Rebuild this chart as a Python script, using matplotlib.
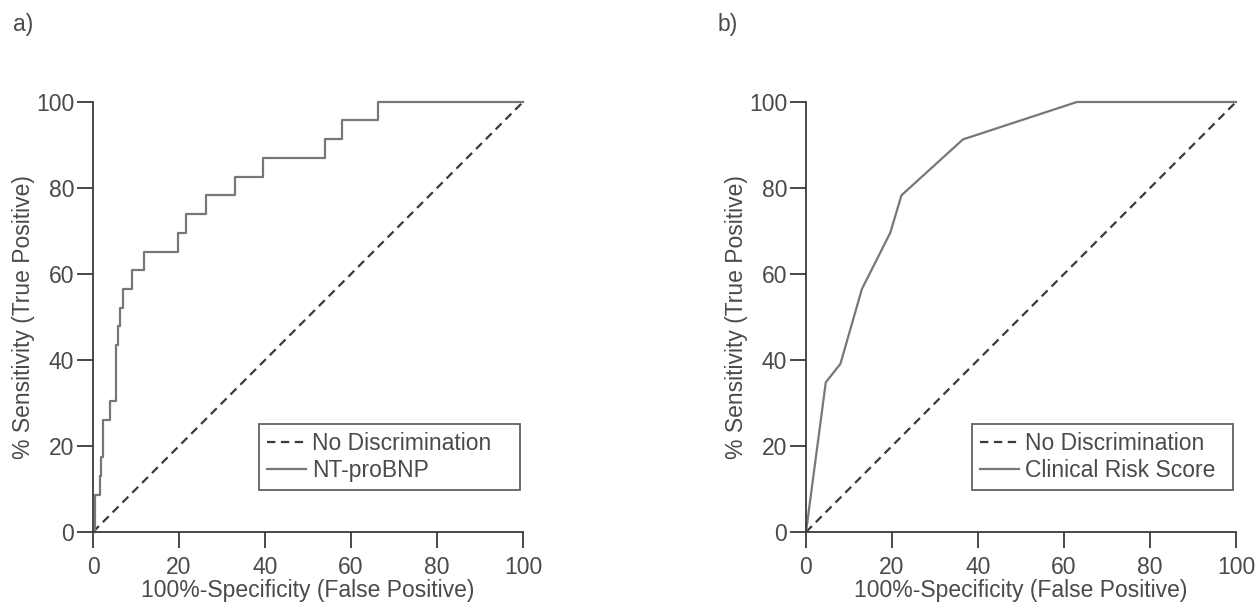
import numpy as np
import matplotlib
matplotlib.use('Agg')
import matplotlib.pyplot as plt

plt.rcParams['font.family'] = ['Liberation Sans', 'DejaVu Sans']
plt.rcParams['lines.scale_dashes'] = False

# a) NT-proBNP ROC (step curve, jump points: at fpr the sensitivity rises to tpr)
fpr_a = [0.0, 0.4, 1.6, 1.8, 2.3, 4.0, 5.3, 5.8, 6.2, 7.0, 9.0, 11.9, 19.8,
         21.6, 26.3, 33.0, 39.5, 54.0, 58.0, 66.3, 100.0]
tpr_a = [0.0, 8.7, 13.0, 17.4, 26.1, 30.4, 43.5, 47.8, 52.2, 56.5, 60.9, 65.2,
         69.6, 73.9, 78.3, 82.6, 87.0, 91.3, 95.7, 100.0, 100.0]

# b) Clinical risk score ROC
fpr_b = [0.0, 4.6, 8.0, 13.0, 19.6, 22.2, 36.5, 63.0, 100.0]
tpr_b = [0.0, 34.8, 39.1, 56.5, 69.6, 78.3, 91.3, 100.0, 100.0]

# reference line
diag = [0, 100]

ticks = [0, 20, 40, 60, 80, 100]
TXT = '#4a4a4a'
AX = '#3a3a3a'
CURVE = '#777777'
FS = 16.5

fig = plt.figure(figsize=(12.59, 6.06), dpi=100)
W, H = 1259, 606


def panel(left_px, xs, ys, label, step, tag, tag_x):
    ax = fig.add_axes([left_px / W, (H - 532) / H, 430 / W, 430 / H])
    ax.plot(diag, diag, color=AX, lw=1.6, dashes=(6, 4), clip_on=False,
            label='No Discrimination')
    ax.plot(xs, ys, color=CURVE, lw=1.6, clip_on=False, label=label,
            drawstyle='steps-post' if step else 'default')
    ax.set_xlim(0, 100)
    ax.set_ylim(0, 100)
    for s in ['top', 'right']:
        ax.spines[s].set_visible(False)
    for s in ['left', 'bottom']:
        ax.spines[s].set_color(AX)
        ax.spines[s].set_linewidth(1.3)
    ax.set_xticks(ticks)
    ax.set_yticks(ticks)
    ax.tick_params(length=11.5, width=1.3, color=AX, labelcolor=TXT,
                   labelsize=FS)
    ax.tick_params(axis='x', pad=6)
    ax.tick_params(axis='y', pad=2)
    ax.set_xlabel('100%-Specificity (False Positive)', fontsize=FS, color=TXT,
                  labelpad=0)
    ax.set_ylabel('% Sensitivity (True Positive)', fontsize=FS, color=TXT,
                  labelpad=1)
    leg = ax.legend(loc='lower left', bbox_to_anchor=(0.386, 0.098, 0.606, 0.167),
                    mode='expand', fontsize=FS, frameon=True, fancybox=False,
                    handlelength=1.7, handletextpad=0.25, borderpad=0.35,
                    labelspacing=0.15, borderaxespad=0)
    leg.get_frame().set_edgecolor(AX)
    leg.get_frame().set_linewidth(1.3)
    for t in leg.get_texts():
        t.set_color(TXT)
    fig.text(tag_x / W, 1 - 25 / H, tag, fontsize=FS, color=TXT, va='center')
    return ax


panel(93, fpr_a, tpr_a, 'NT-proBNP', True, 'a)', 13)
panel(806, fpr_b, tpr_b, 'Clinical Risk Score', False, 'b)', 718)

fig.savefig('out.png', dpi=100)
